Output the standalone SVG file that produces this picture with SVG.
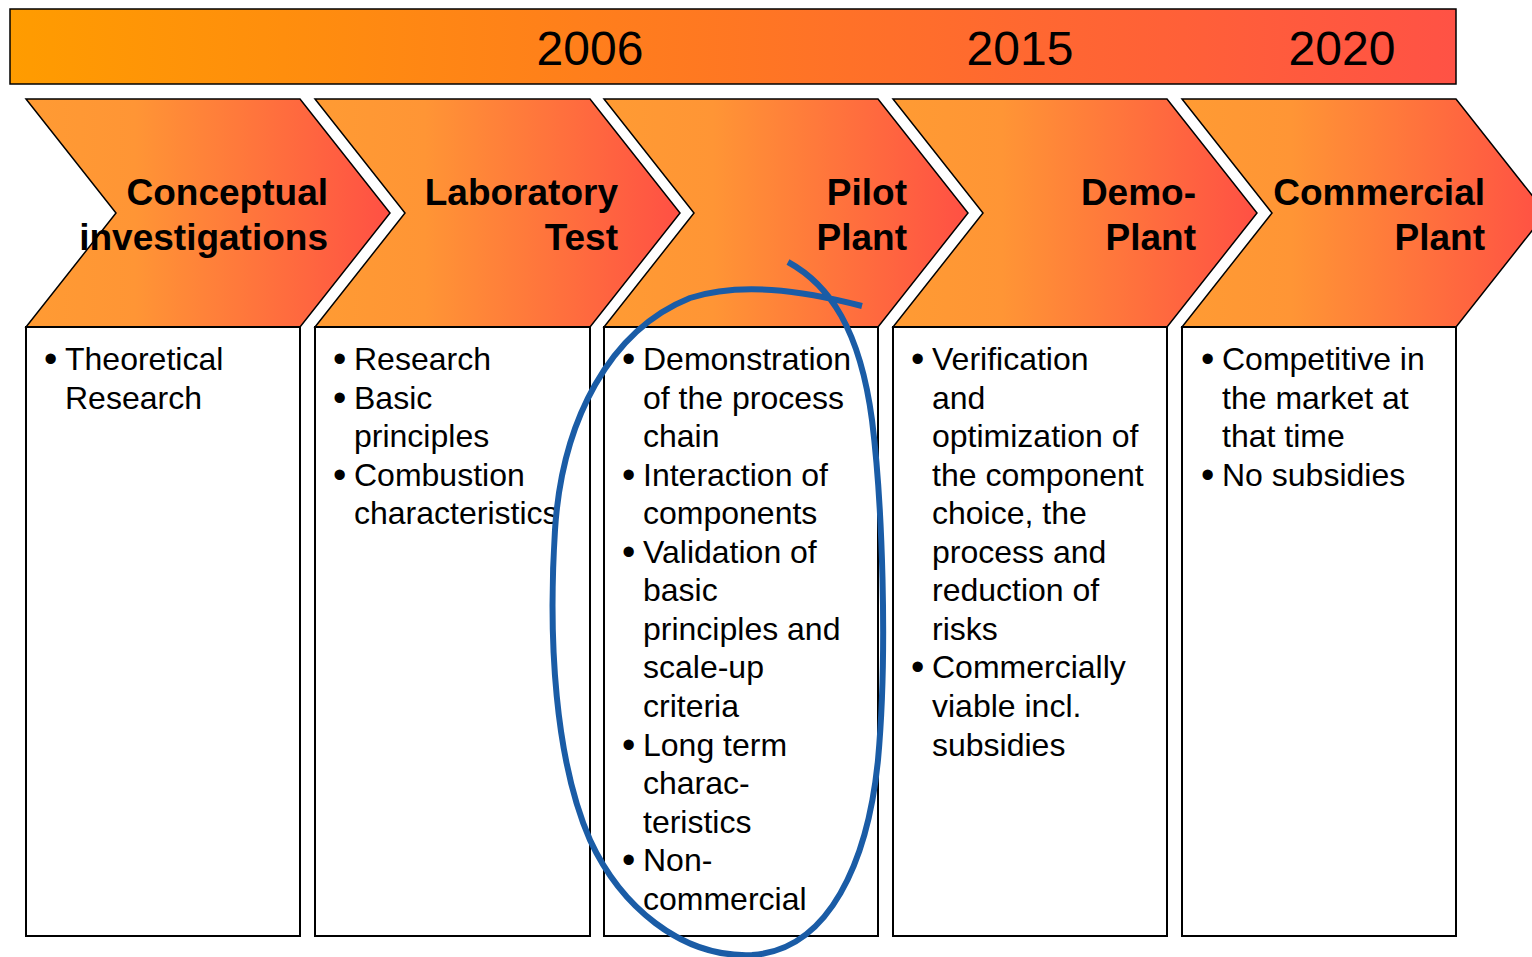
<svg xmlns="http://www.w3.org/2000/svg" width="1532" height="957" viewBox="0 0 1532 957">
<style>
.bar{stroke:#000;stroke-width:1.5}
.chev{stroke:#000;stroke-width:1.5}
.box{fill:#fff;stroke:#000;stroke-width:2}
.yr{font-family:"Liberation Sans",Arial,sans-serif;font-size:48px;fill:#000;text-anchor:middle}
.hd{font-family:"Liberation Sans",Arial,sans-serif;font-size:37px;font-weight:bold;fill:#000;text-anchor:end}
.bd{font-family:"Liberation Sans",Arial,sans-serif;font-size:32px;fill:#000}
.bl{font-size:38px}
.ring{fill:none;stroke:#1A5CA6;stroke-width:6;stroke-linecap:butt}
</style>
<defs>
<linearGradient id="gBar" x1="0" y1="0" x2="1" y2="0">
<stop offset="0" stop-color="#FF9C00"/>
<stop offset="1" stop-color="#FF5245"/>
</linearGradient>
<linearGradient id="gChev" x1="0" y1="0" x2="1" y2="0">
<stop offset="0" stop-color="#FF9B33"/>
<stop offset="0.3" stop-color="#FF9535"/>
<stop offset="1" stop-color="#FF5044"/>
</linearGradient>
</defs>
<rect width="1532" height="957" fill="#fff"/>
<g id="timeline">
<rect class="bar" x="10" y="9" width="1446" height="75" fill="url(#gBar)"/>
<text class="yr" x="590" y="65">2006</text>
<text class="yr" x="1020" y="65">2015</text>
<text class="yr" x="1342" y="65">2020</text>
</g>
<g id="stage1">
<path class="chev" d="M26,99 L300,99 L390,213 L300,327 L26,327 L116,213 Z" fill="url(#gChev)"/>
<text class="hd" x="328" y="205">Conceptual</text>
<text class="hd" x="328" y="250">investigations</text>
<rect class="box" x="26" y="327" width="274" height="609"/>
<text class="bd"><tspan class="bl" x="44" y="372">•</tspan><tspan x="65" y="370">Theoretical</tspan><tspan x="65" y="409">Research</tspan></text>
</g>
<g id="stage2">
<path class="chev" d="M315,99 L590,99 L680,213 L590,327 L315,327 L405,213 Z" fill="url(#gChev)"/>
<text class="hd" x="618" y="205">Laboratory</text>
<text class="hd" x="618" y="250">Test</text>
<rect class="box" x="315" y="327" width="275" height="609"/>
<text class="bd"><tspan class="bl" x="333" y="372">•</tspan><tspan x="354" y="370">Research</tspan><tspan class="bl" x="333" y="411">•</tspan><tspan x="354" y="409">Basic</tspan><tspan x="354" y="447">principles</tspan><tspan class="bl" x="333" y="488">•</tspan><tspan x="354" y="486">Combustion</tspan><tspan x="354" y="524">characteristics</tspan></text>
</g>
<g id="stage3">
<path class="chev" d="M604,99 L878,99 L968,213 L878,327 L604,327 L694,213 Z" fill="url(#gChev)"/>
<text class="hd" x="907" y="205">Pilot</text>
<text class="hd" x="907" y="250">Plant</text>
<rect class="box" x="604" y="327" width="274" height="609"/>
<text class="bd"><tspan class="bl" x="622" y="372">•</tspan><tspan x="643" y="370">Demonstration</tspan><tspan x="643" y="409">of the process</tspan><tspan x="643" y="447">chain</tspan><tspan class="bl" x="622" y="488">•</tspan><tspan x="643" y="486">Interaction of</tspan><tspan x="643" y="524">components</tspan><tspan class="bl" x="622" y="565">•</tspan><tspan x="643" y="563">Validation of</tspan><tspan x="643" y="601">basic</tspan><tspan x="643" y="640">principles and</tspan><tspan x="643" y="678">scale-up</tspan><tspan x="643" y="717">criteria</tspan><tspan class="bl" x="622" y="758">•</tspan><tspan x="643" y="756">Long term</tspan><tspan x="643" y="794">charac-</tspan><tspan x="643" y="833">teristics</tspan><tspan class="bl" x="622" y="873">•</tspan><tspan x="643" y="871">Non-</tspan><tspan x="643" y="910">commercial</tspan></text>
</g>
<g id="stage4">
<path class="chev" d="M893,99 L1167,99 L1257,213 L1167,327 L893,327 L983,213 Z" fill="url(#gChev)"/>
<text class="hd" x="1196" y="205">Demo-</text>
<text class="hd" x="1196" y="250">Plant</text>
<rect class="box" x="893" y="327" width="274" height="609"/>
<text class="bd"><tspan class="bl" x="911" y="372">•</tspan><tspan x="932" y="370">Verification</tspan><tspan x="932" y="409">and</tspan><tspan x="932" y="447">optimization of</tspan><tspan x="932" y="486">the component</tspan><tspan x="932" y="524">choice, the</tspan><tspan x="932" y="563">process and</tspan><tspan x="932" y="601">reduction of</tspan><tspan x="932" y="640">risks</tspan><tspan class="bl" x="911" y="680">•</tspan><tspan x="932" y="678">Commercially</tspan><tspan x="932" y="717">viable incl.</tspan><tspan x="932" y="756">subsidies</tspan></text>
</g>
<g id="stage5">
<path class="chev" d="M1182,99 L1456,99 L1546,213 L1456,327 L1182,327 L1272,213 Z" fill="url(#gChev)"/>
<text class="hd" x="1485" y="205">Commercial</text>
<text class="hd" x="1485" y="250">Plant</text>
<rect class="box" x="1182" y="327" width="274" height="609"/>
<text class="bd"><tspan class="bl" x="1201" y="372">•</tspan><tspan x="1222" y="370">Competitive in</tspan><tspan x="1222" y="409">the market at</tspan><tspan x="1222" y="447">that time</tspan><tspan class="bl" x="1201" y="488">•</tspan><tspan x="1222" y="486">No subsidies</tspan></text>
</g>
<g id="highlight">
<path class="ring" d="M788,262 C830,285 860,330 872,420 C882,500 888,650 878,760 C868,860 830,950 752,955 C680,958 620,905 590,840 C555,760 548,640 555,530 C562,420 610,330 690,298 C740,282 800,290 862,306"/>
</g>
</svg>
